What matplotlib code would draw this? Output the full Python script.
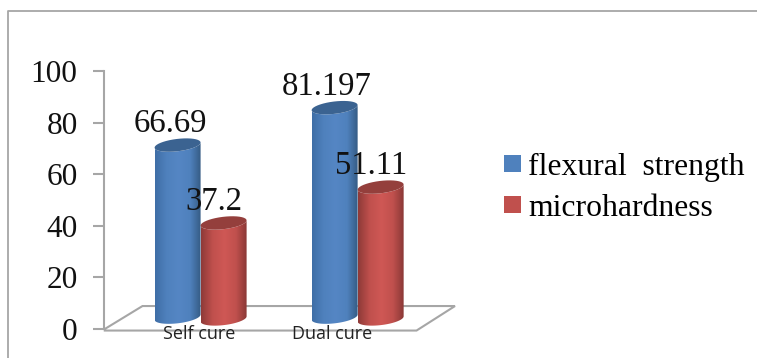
import numpy as np
import matplotlib
matplotlib.use('Agg')
import matplotlib.pyplot as plt
from matplotlib.colors import LinearSegmentedColormap
from matplotlib.patches import Polygon, Rectangle

categories = ['Self cure', 'Dual cure']
flexural = [66.69, 81.197]
microhardness = [37.2, 51.11]
flexural_labels = ['66.69', '81.197']
micro_labels = ['37.2', '51.11']
yticks = [0, 20, 40, 60, 80, 100]

W, H = 757, 358
plt.rcParams['font.family'] = ['Liberation Serif', 'DejaVu Serif']

fig = plt.figure(figsize=(W / 100, H / 100), dpi=100)

# full figure overlay in pixels for the frame
bg = fig.add_axes([0, 0, 1, 1])
bg.set_xlim(0, W)
bg.set_ylim(H, 0)
bg.axis('off')
bg.plot([8, 8, 757], [358, 11, 11], color='#a6a6a6', lw=1.3)

# plot axes: spine sits at px 104, y 0 at px 329, y 100 at px 71
left, right, top, bottom = 104, 455, 71, 329
ax = fig.add_axes([left / W, 1 - bottom / H, (right - left) / W, (bottom - top) / H])
ax.set_ylim(0, 100)
ax.set_xlim(-0.615, 1.62)
ax.patch.set_alpha(0)
for s in ['top', 'right', 'bottom']:
    ax.spines[s].set_visible(False)
ax.spines['left'].set_color('#a6a6a6')
ax.spines['left'].set_linewidth(1.5)
ax.set_xticks([])
ax.set_yticks(yticks)
ax.tick_params(axis='y', length=8, width=1.5, color='#a6a6a6', labelsize=22.5, pad=11, labelcolor='#111111')

# floor of the 3d box
floor = Polygon([(-0.61, 0), (-0.37, 8.9), (1.62, 8.9), (1.375, -0.6), (-0.61, -0.6)], closed=True,
                fill=False, ec='#a6a6a6', lw=1.5, clip_on=False)
ax.add_patch(floor)

blue_map = LinearSegmentedColormap.from_list('b', ['#3f6ea6', '#4f81bd', '#5586c4', '#4f81bd', '#33587f'])
red_map = LinearSegmentedColormap.from_list('r', ['#8e3a38', '#c0504d', '#cf5855', '#c0504d', '#853634'])

bar_w = 0.293
ell = 2.4  # half height of the cylinder end, y units


def cylinder(x0, val, base, cmap, top_col):
    x1 = x0 + bar_w
    t = np.linspace(0, np.pi, 40)
    xs = (x0 + x1) / 2 + np.cos(t) * bar_w / 2
    tilt = np.cos(t) * 1.0
    # body outline: front of the bottom end, then front of the top end
    low_y = base - np.sin(t) * ell + tilt
    up_y = base + val - np.sin(t) * ell + tilt
    body = np.column_stack([np.r_[xs[::-1], xs], np.r_[low_y[::-1], up_y]])
    grad = np.linspace(0, 1, 128).reshape(1, -1)
    im = ax.imshow(grad, extent=[x0, x1, base - 5, base + val + 5], aspect='auto', cmap=cmap,
                   zorder=3, clip_on=True)
    patch = Polygon(body, closed=True, transform=ax.transData, fc='none', ec='none')
    ax.add_patch(patch)
    im.set_clip_path(patch)
    cap = np.column_stack([(x0 + x1) / 2 + np.cos(2 * t) * bar_w / 2,
                           base + val + np.sin(2 * t) * ell + np.cos(2 * t) * 1.0])
    ax.add_patch(Polygon(cap, closed=True, fc=top_col, ec='none', zorder=4))


for i, cat in enumerate(categories):
    cylinder(i - bar_w, flexural[i], 4.6, blue_map, '#3b6391')
    cylinder(i, microhardness[i], 3.9, red_map, '#943f3c')

ax.set_xlim(-0.615, 1.62)
ax.set_ylim(0, 100)

# category labels are not centred on the groups in the original
cat_x = [-0.01, 0.84]
for i, cat in enumerate(categories):
    ax.text(cat_x[i], -1.9, cat, ha='center', va='center', fontsize=13, family='Open Sans', color='#222222', zorder=5)
    ax.text(i - 0.195, flexural[i] + 9.5, flexural_labels[i], ha='center', va='baseline', fontsize=23.5, color='#111111', zorder=5)
    ax.text(i + 0.085, microhardness[i] + 9.1, micro_labels[i], ha='center', va='baseline', fontsize=23.5, color='#111111', zorder=5)

# legend
handles = [Rectangle((0, 0), 1, 1, fc='#4f81bd', ec='none'), Rectangle((0, 0), 1, 1, fc='#c0504d', ec='none')]
fig.legend(handles, ['flexural  strength', 'microhardness'], loc='upper left', bbox_to_anchor=(504 / W, 1 - 153 / H),
           frameon=False, fontsize=22.8, handlelength=0.55, handleheight=0.45, handletextpad=0.22,
           labelspacing=0.38, borderpad=0, borderaxespad=0)

fig.savefig('out.png', dpi=100, facecolor='white')
